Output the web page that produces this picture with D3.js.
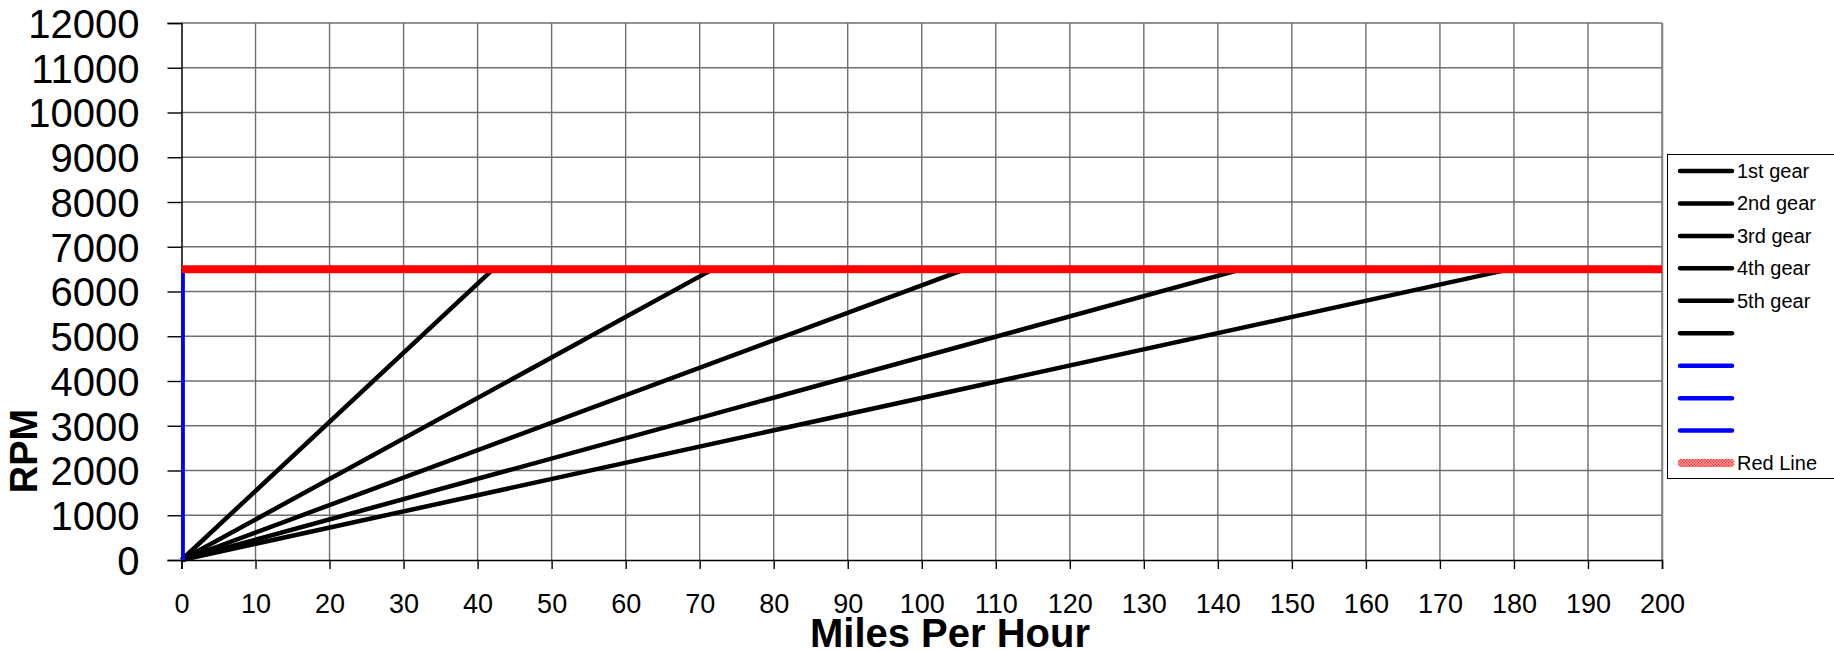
<!DOCTYPE html>
<html><head><meta charset="utf-8">
<script src="https://cdn.jsdelivr.net/npm/d3@7"></script>
<style>body{margin:0;background:#fff}svg{display:block;font-family:"Liberation Sans",Arial,sans-serif}</style>
</head><body><svg id="c" width="1834" height="651"></svg>
<script>
const seriesNames = ["1st gear","2nd gear","3rd gear","4th gear","5th gear","","","","","Red Line"];
const seriesColors = ["#000","#000","#000","#000","#000","#000","#0000ff","#0000ff","#0000ff","#ff0000"];
const redlineRPM = 6500;
const gearTopSpeeds = [42.1, 71.8, 105.9, 143.3, 179.5];
const gear1 = [[0,0],[42.1,6500]];
const gear2 = [[0,0],[71.8,6500]];
const gear3 = [[0,0],[105.9,6500]];
const gear4 = [[0,0],[143.3,6500]];
const gear5 = [[0,0],[179.5,6500]];
const series6 = [[0,0],[0,0]];
const blue1 = [[0,0],[0,6500]];
const blue2 = [[0,0],[0,6500]];
const blue3 = [[0,0],[0,6500]];
const redLine = [[0,6500],[200,6500]];
const xTicks = d3.range(0,201,10);
const yTicks = d3.range(0,12001,1000);

const svg = d3.select("#c");
const L=181.5,R=1662,T=23,B=560;
const x = d3.scaleLinear().domain([0,200]).range([L,R]);
const y = d3.scaleLinear().domain([0,12000]).range([B,T]);

// grid
const g = svg.append("g");
g.selectAll("line.v").data(xTicks.slice(1)).join("line")
 .attr("x1",d=>x(d)).attr("x2",d=>x(d)).attr("y1",T).attr("y2",B)
 .attr("stroke","#6e6e6e").attr("stroke-width",1.4);
g.selectAll("line.h").data(yTicks.slice(1)).join("line")
 .attr("x1",L).attr("x2",R).attr("y1",d=>y(d)).attr("y2",d=>y(d))
 .attr("stroke","#6e6e6e").attr("stroke-width",1.4);
g.append("line").attr("x1",R+0.5).attr("x2",R+0.5).attr("y1",T).attr("y2",B).attr("stroke","#888").attr("stroke-width",1.6);

// axes
const yAxis = d3.axisLeft(y).tickValues(yTicks).tickSize(14).tickPadding(28).tickFormat(d3.format("d"));
const ya = svg.append("g").attr("transform",`translate(${L},0)`).call(yAxis);
ya.select(".domain").attr("stroke","#000").attr("stroke-width",1.5);
ya.selectAll(".tick line").attr("stroke","#000").attr("stroke-width",1.4);
ya.selectAll(".tick text").attr("font-size",40).attr("fill","#000").attr("font-family","Liberation Sans, Arial").attr("dy","0.36em");

const xAxis = d3.axisBottom(x).tickValues(xTicks).tickSize(9).tickPadding(0).tickFormat(d3.format("d"));
const xa = svg.append("g").attr("transform",`translate(0,${B})`).call(xAxis);
xa.select(".domain").attr("stroke","#000").attr("stroke-width",1.5);
xa.selectAll(".tick line").attr("stroke","#000").attr("stroke-width",1.4);
xa.selectAll(".tick text").attr("font-size",27).attr("fill","#000").attr("font-family","Liberation Sans, Arial").attr("dy",null).attr("y",53);

// series
const line = d3.line().x(d=>x(d[0])).y(d=>y(d[1]));
const data = [gear1,gear2,gear3,gear4,gear5,series6,blue1,blue2,blue3];
data.forEach((d,i)=>{
  svg.append("path").datum(d).attr("d",line).attr("fill","none")
   .attr("stroke",seriesColors[i]).attr("stroke-width",i>=6?3:4.5)
   .attr("transform",i>=6?"translate(1.5,0)":null);
});
svg.append("path").datum(redLine).attr("d",line).attr("fill","none").attr("stroke","#ff0000").attr("stroke-width",8);

// titles
svg.append("text").attr("x",950).attr("y",647).attr("text-anchor","middle")
 .attr("font-size",40).attr("font-weight","bold").text("Miles Per Hour");
svg.append("text").attr("transform","translate(37,451) rotate(-90)").attr("text-anchor","middle")
 .attr("font-size",38).attr("font-weight","bold").text("RPM");

// legend
const defs = svg.append("defs");
const pat = defs.append("pattern").attr("id","rp").attr("width",3).attr("height",3).attr("patternUnits","userSpaceOnUse");
pat.append("rect").attr("width",3).attr("height",3).attr("fill","#ffb0b0");
pat.append("rect").attr("width",1.5).attr("height",1.5).attr("fill","#ff3030");
pat.append("rect").attr("x",1.5).attr("y",1.5).attr("width",1.5).attr("height",1.5).attr("fill","#ff3030");
const lg = svg.append("g");
lg.append("rect").attr("x",1667.5).attr("y",154.5).attr("width",170).attr("height",324).attr("fill","#fff").attr("stroke","#000").attr("stroke-width",1);
seriesNames.forEach((n,i)=>{
  const yy = 171 + i*32.45;
  if(i<9){
    lg.append("line").attr("x1",1680).attr("x2",1732).attr("y1",yy).attr("y2",yy)
     .attr("stroke",seriesColors[i]).attr("stroke-width",4.5).attr("stroke-linecap","round");
  } else {
    lg.append("rect").attr("x",1678).attr("y",yy-4).attr("width",56).attr("height",8).attr("rx",3).attr("fill","url(#rp)");
  }
  if(n) lg.append("text").attr("x",1737).attr("y",yy+7).attr("font-size",20).text(n);
});
</script></body></html>
